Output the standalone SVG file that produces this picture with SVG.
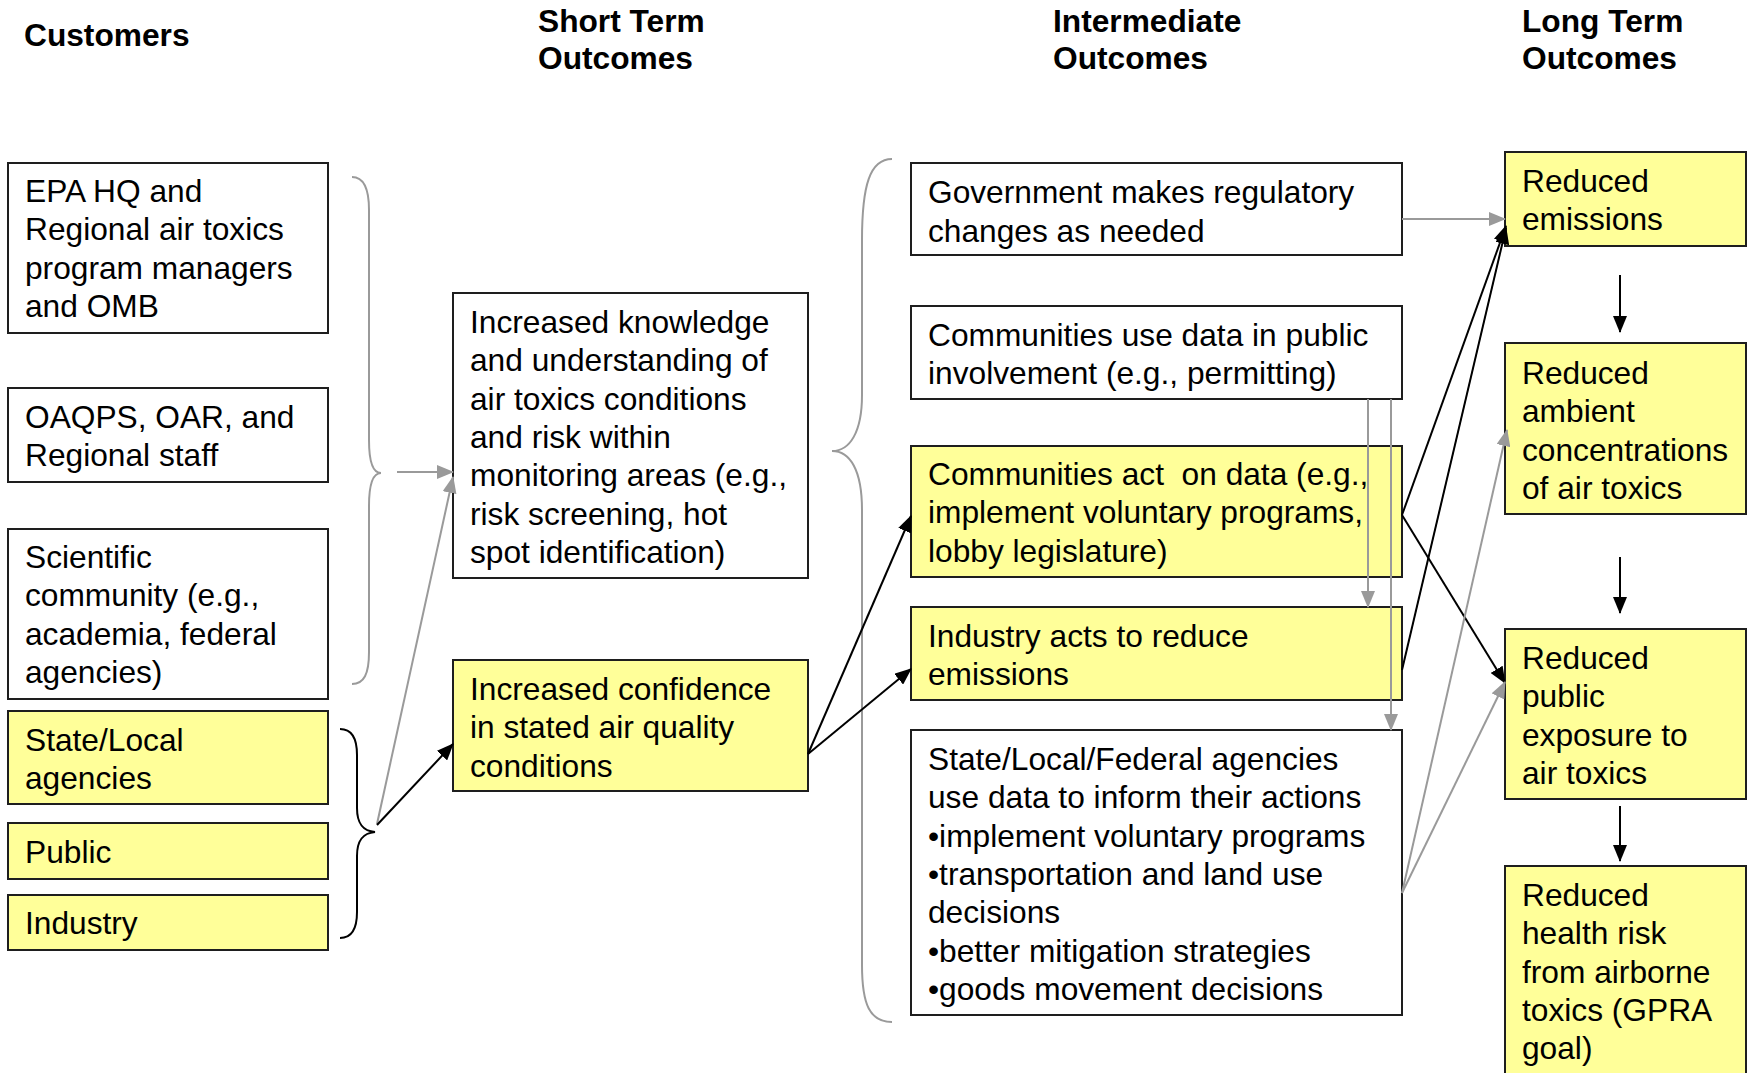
<svg xmlns="http://www.w3.org/2000/svg" width="1747" height="1073" viewBox="0 0 1747 1073">
<style>
text{font-family:"Liberation Sans",Arial,sans-serif;font-size:31.7px;fill:#000;white-space:pre}
.h{font-weight:bold}
.box{stroke:#1e1e1e;stroke-width:2;fill:#fff}
.y{fill:#ffff99}
.k{stroke:#000;stroke-width:2;fill:none}
.g{stroke:#9a9a9a;stroke-width:2;fill:none}
</style>
<defs>
<marker id="ak" markerUnits="userSpaceOnUse" markerWidth="18" markerHeight="14" refX="16" refY="7" orient="auto"><path d="M0,0 L17,7 L0,14 z" fill="#000"/></marker>
<marker id="ag" markerUnits="userSpaceOnUse" markerWidth="18" markerHeight="14" refX="16" refY="7" orient="auto"><path d="M0,0 L17,7 L0,14 z" fill="#9a9a9a"/></marker>
</defs>
<rect width="1747" height="1073" fill="#fff"/>
<g id="headers">
<text class="h" x="24" y="46">Customers</text>
<text class="h" x="538" y="32">Short Term<tspan x="538" y="69">Outcomes</tspan></text>
<text class="h" x="1053" y="32">Intermediate<tspan x="1053" y="69">Outcomes</tspan></text>
<text class="h" x="1522" y="32">Long Term<tspan x="1522" y="69">Outcomes</tspan></text>
</g>
<g id="n-epa"><rect class="box" x="8" y="163" width="320" height="170"/><text x="25" y="202">EPA HQ and<tspan x="25" y="240.3">Regional air toxics</tspan><tspan x="25" y="278.6">program managers</tspan><tspan x="25" y="317">and OMB</tspan></text></g>
<g id="n-oaqps"><rect class="box" x="8" y="388" width="320" height="94"/><text x="25" y="428">OAQPS, OAR, and<tspan x="25" y="466.3">Regional staff</tspan></text></g>
<g id="n-sci"><rect class="box" x="8" y="529" width="320" height="170"/><text x="25" y="568">Scientific<tspan x="25" y="606.3">community (e.g.,</tspan><tspan x="25" y="644.6">academia, federal</tspan><tspan x="25" y="683">agencies)</tspan></text></g>
<g id="n-statelocal"><rect class="box y" x="8" y="711" width="320" height="93"/><text x="25" y="751">State/Local<tspan x="25" y="789.3">agencies</tspan></text></g>
<g id="n-public"><rect class="box y" x="8" y="823" width="320" height="56"/><text x="25" y="863">Public</text></g>
<g id="n-industry"><rect class="box y" x="8" y="895" width="320" height="55"/><text x="25" y="934">Industry</text></g>
<g id="n-knowledge"><rect class="box" x="453" y="293" width="355" height="285"/><text x="470" y="333">Increased knowledge<tspan x="470" y="371.3">and understanding of</tspan><tspan x="470" y="409.6">air toxics conditions</tspan><tspan x="470" y="448">and risk within</tspan><tspan x="470" y="486.3">monitoring areas (e.g.,</tspan><tspan x="470" y="524.6">risk screening, hot</tspan><tspan x="470" y="563">spot identification)</tspan></text></g>
<g id="n-confidence"><rect class="box y" x="453" y="660" width="355" height="131"/><text x="470" y="700">Increased confidence<tspan x="470" y="738.3">in stated air quality</tspan><tspan x="470" y="776.6">conditions</tspan></text></g>
<g id="n-gov"><rect class="box" x="911" y="163" width="491" height="92"/><text x="928" y="203">Government makes regulatory<tspan x="928" y="241.5">changes as needed</tspan></text></g>
<g id="n-communse"><rect class="box" x="911" y="306" width="491" height="93"/><text x="928" y="346">Communities use data in public<tspan x="928" y="384.3">involvement (e.g., permitting)</tspan></text></g>
<g id="n-commact"><rect class="box y" x="911" y="446" width="491" height="131"/><text x="928" y="485">Communities act  on data (e.g.,<tspan x="928" y="523.3">implement voluntary programs,</tspan><tspan x="928" y="561.6">lobby legislature)</tspan></text></g>
<g id="n-industryacts"><rect class="box y" x="911" y="607" width="491" height="93"/><text x="928" y="647">Industry acts to reduce<tspan x="928" y="685.3">emissions</tspan></text></g>
<g id="n-agencies"><rect class="box" x="911" y="730" width="491" height="285"/><text x="928" y="770">State/Local/Federal agencies<tspan x="928" y="808.3">use data to inform their actions</tspan><tspan x="928" y="846.6">•implement voluntary programs</tspan><tspan x="928" y="885">•transportation and land use</tspan><tspan x="928" y="923.3">decisions</tspan><tspan x="928" y="961.6">•better mitigation strategies</tspan><tspan x="928" y="1000">•goods movement decisions</tspan></text></g>
<g id="n-redemis"><rect class="box y" x="1505" y="152" width="241" height="94"/><text x="1522" y="192">Reduced<tspan x="1522" y="230">emissions</tspan></text></g>
<g id="n-redamb"><rect class="box y" x="1505" y="343" width="241" height="171"/><text x="1522" y="384">Reduced<tspan x="1522" y="422.3">ambient</tspan><tspan x="1522" y="460.6">concentrations</tspan><tspan x="1522" y="499">of air toxics</tspan></text></g>
<g id="n-redpub"><rect class="box y" x="1505" y="629" width="241" height="170"/><text x="1522" y="669">Reduced<tspan x="1522" y="707.3">public</tspan><tspan x="1522" y="745.6">exposure to</tspan><tspan x="1522" y="784">air toxics</tspan></text></g>
<g id="n-redhealth"><rect class="box y" x="1505" y="866" width="241" height="220"/><text x="1522" y="906">Reduced<tspan x="1522" y="944.3">health risk</tspan><tspan x="1522" y="982.6">from airborne</tspan><tspan x="1522" y="1021">toxics (GPRA</tspan><tspan x="1522" y="1059.3">goal)</tspan></text></g>
<g id="connectors">
<path class="g" d="M352 177 C364 177 369 188 369 210 L369 440 C369 462 373 473 381 473 C373 473 369 484 369 506 L369 652 C369 674 364 684 352 684"/>
<path class="k" d="M340 729 C352 729 357 738 357 755 L357 808 C357 824 363 831 375 832 C363 833 357 840 357 856 L357 912 C357 929 352 938 340 938"/>
<path class="g" d="M892 159 C870 159 862 185 862 240 L862 395 C862 432 850 451 832 451 C850 451 862 470 862 510 L862 965 C862 1005 870 1022 892 1022"/>
<path class="g" d="M397 472 L453 472" marker-end="url(#ag)"/>
<path class="g" d="M377 824 L453 477" marker-end="url(#ag)"/>
<path class="k" d="M377 825 L453 744" marker-end="url(#ak)"/>
<path class="k" d="M808 754 L911 516" marker-end="url(#ak)"/>
<path class="k" d="M808 754 L911 669" marker-end="url(#ak)"/>
<path class="g" d="M1368 399 L1368 607" marker-end="url(#ag)"/>
<path class="g" d="M1391 399 L1391 730" marker-end="url(#ag)"/>
<path class="g" d="M1402 219 L1505 219" marker-end="url(#ag)"/>
<path class="k" d="M1402 515 L1506 226" marker-end="url(#ak)"/>
<path class="k" d="M1402 670 L1506 228" marker-end="url(#ak)"/>
<path class="k" d="M1402 515 L1505 683" marker-end="url(#ak)"/>
<path class="g" d="M1402 893 L1507 430" marker-end="url(#ag)"/>
<path class="g" d="M1402 893 L1505 682" marker-end="url(#ag)"/>
<path class="k" d="M1620 275 L1620 332" marker-end="url(#ak)"/>
<path class="k" d="M1620 557 L1620 613" marker-end="url(#ak)"/>
<path class="k" d="M1620 806 L1620 861" marker-end="url(#ak)"/>
</g>
</svg>
